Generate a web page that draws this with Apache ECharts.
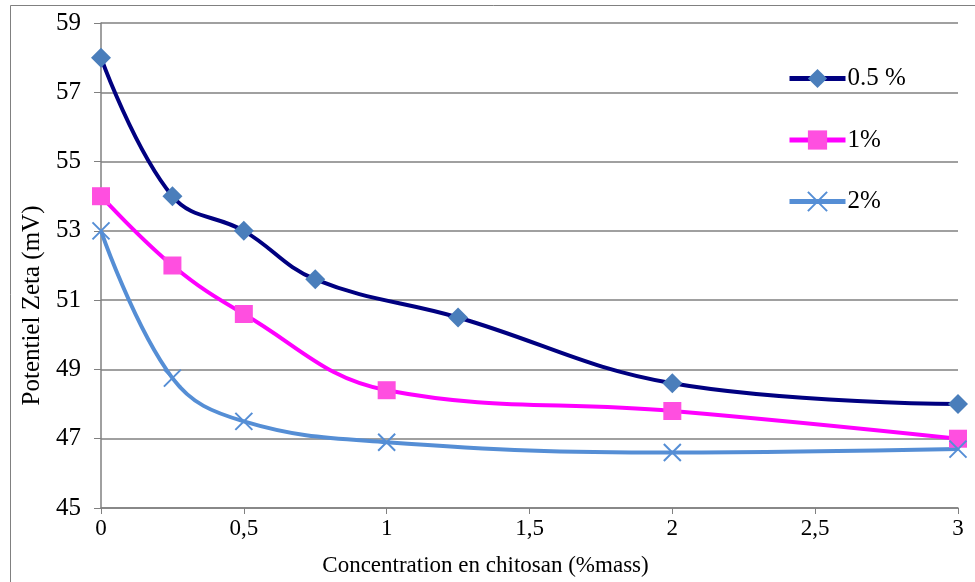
<!DOCTYPE html>
<html><head><meta charset="utf-8">
<script src="https://cdn.jsdelivr.net/npm/echarts@6/dist/echarts.min.js"></script>
<style>html,body{margin:0;padding:0;background:#fff}#c{width:975px;height:582px}</style>
</head><body><div id="c"></div>
<script>
const xTicks = [0, 0.5, 1, 1.5, 2, 2.5, 3];
const yTicks = [45, 47, 49, 51, 53, 55, 57, 59];
const seriesNames = ['0.5 %', '1%', '2%'];
const x05 = [0, 0.25, 0.5, 0.75, 1.25, 2, 3];
const y05 = [58, 54, 53, 51.6, 50.5, 48.6, 48];
const x1 = [0, 0.25, 0.5, 1, 2, 3];
const y1 = [54, 52, 50.6, 48.4, 47.8, 47];
const x2 = [0, 0.25, 0.5, 1, 2, 3];
const y2 = [53, 48.75, 47.5, 46.9, 46.6, 46.7];

const font = '"Liberation Serif", serif';
const pair = (xs, ys) => xs.map((x, i) => [x, ys[i]]);
const chart = echarts.init(document.getElementById('c'));
chart.setOption({
  animation: false,
  backgroundColor: '#fff',
  textStyle: {fontFamily: font},
  graphic: [{type:'rect', shape:{x:10.5,y:5.5,width:1000,height:1000}, style:{fill:'none', stroke:'#808080', lineWidth:1}, silent:true, z:-1}],
  grid: {left: 101, right: 17, top: 23, bottom: 74},
  legend: {
    orient: 'vertical', left: 787, top: 66, padding: 0, itemWidth: 56, itemHeight: 24, itemGap: 36.5,
    textStyle: {fontFamily: font, fontSize: 25, color: '#000', padding: [0,0,0,-3]},
    lineStyle: {width: 5},
    data: seriesNames
  },
  xAxis: {
    type: 'value', min: 0, max: 3, interval: 0.5,
    name: 'Concentration en chitosan (%mass)', nameLocation: 'middle', nameGap: 46,
    nameTextStyle: {fontFamily: font, fontSize: 23, color: '#000', padding: [0, 88, 0, 0]},
    axisLine: {show: true, lineStyle: {color: '#808080', width: 1.5}},
    axisTick: {show: true, length: 6, lineStyle: {color: '#808080'}},
    splitLine: {show: false},
    axisLabel: {fontFamily: font, fontSize: 23, color: '#000', margin: 9,
      formatter: v => String(v).replace('.', ',')}
  },
  yAxis: {
    type: 'value', min: 45, max: 59, interval: 2,
    name: 'Potentiel Zeta (mV)', nameLocation: 'middle', nameGap: 50,
    nameTextStyle: {fontFamily: font, fontSize: 25, color: '#000', padding: [0, 80, 0, 0]},
    axisLine: {show: true, lineStyle: {color: '#808080', width: 1.5}},
    axisTick: {show: true, length: 7, lineStyle: {color: '#808080'}},
    splitLine: {show: true, lineStyle: {color: '#808080', width: 1.5}},
    axisLabel: {fontFamily: font, fontSize: 25, color: '#000', margin: 20}
  },
  series: [
    {name: seriesNames[0], type: 'line', smooth: 0.4, data: pair(x05, y05),
      lineStyle: {color: '#000080', width: 4}, symbol: 'diamond', symbolSize: 20,
      itemStyle: {color: '#4A7EBB'}},
    {name: seriesNames[1], type: 'line', smooth: 0.4, data: pair(x1, y1),
      lineStyle: {color: '#FF00FF', width: 4}, symbol: 'rect', symbolSize: 18,
      itemStyle: {color: '#FF4FE0'}},
    {name: seriesNames[2], type: 'line', smooth: 0.4, data: pair(x2, y2),
      lineStyle: {color: '#558ED5', width: 4}, symbol: 'path://M0,0L10,10M10,0L0,10', symbolSize: 17,
      itemStyle: {color: 'rgba(0,0,0,0)', borderColor: '#558ED5', borderWidth: 2}}
  ]
});
</script></body></html>
